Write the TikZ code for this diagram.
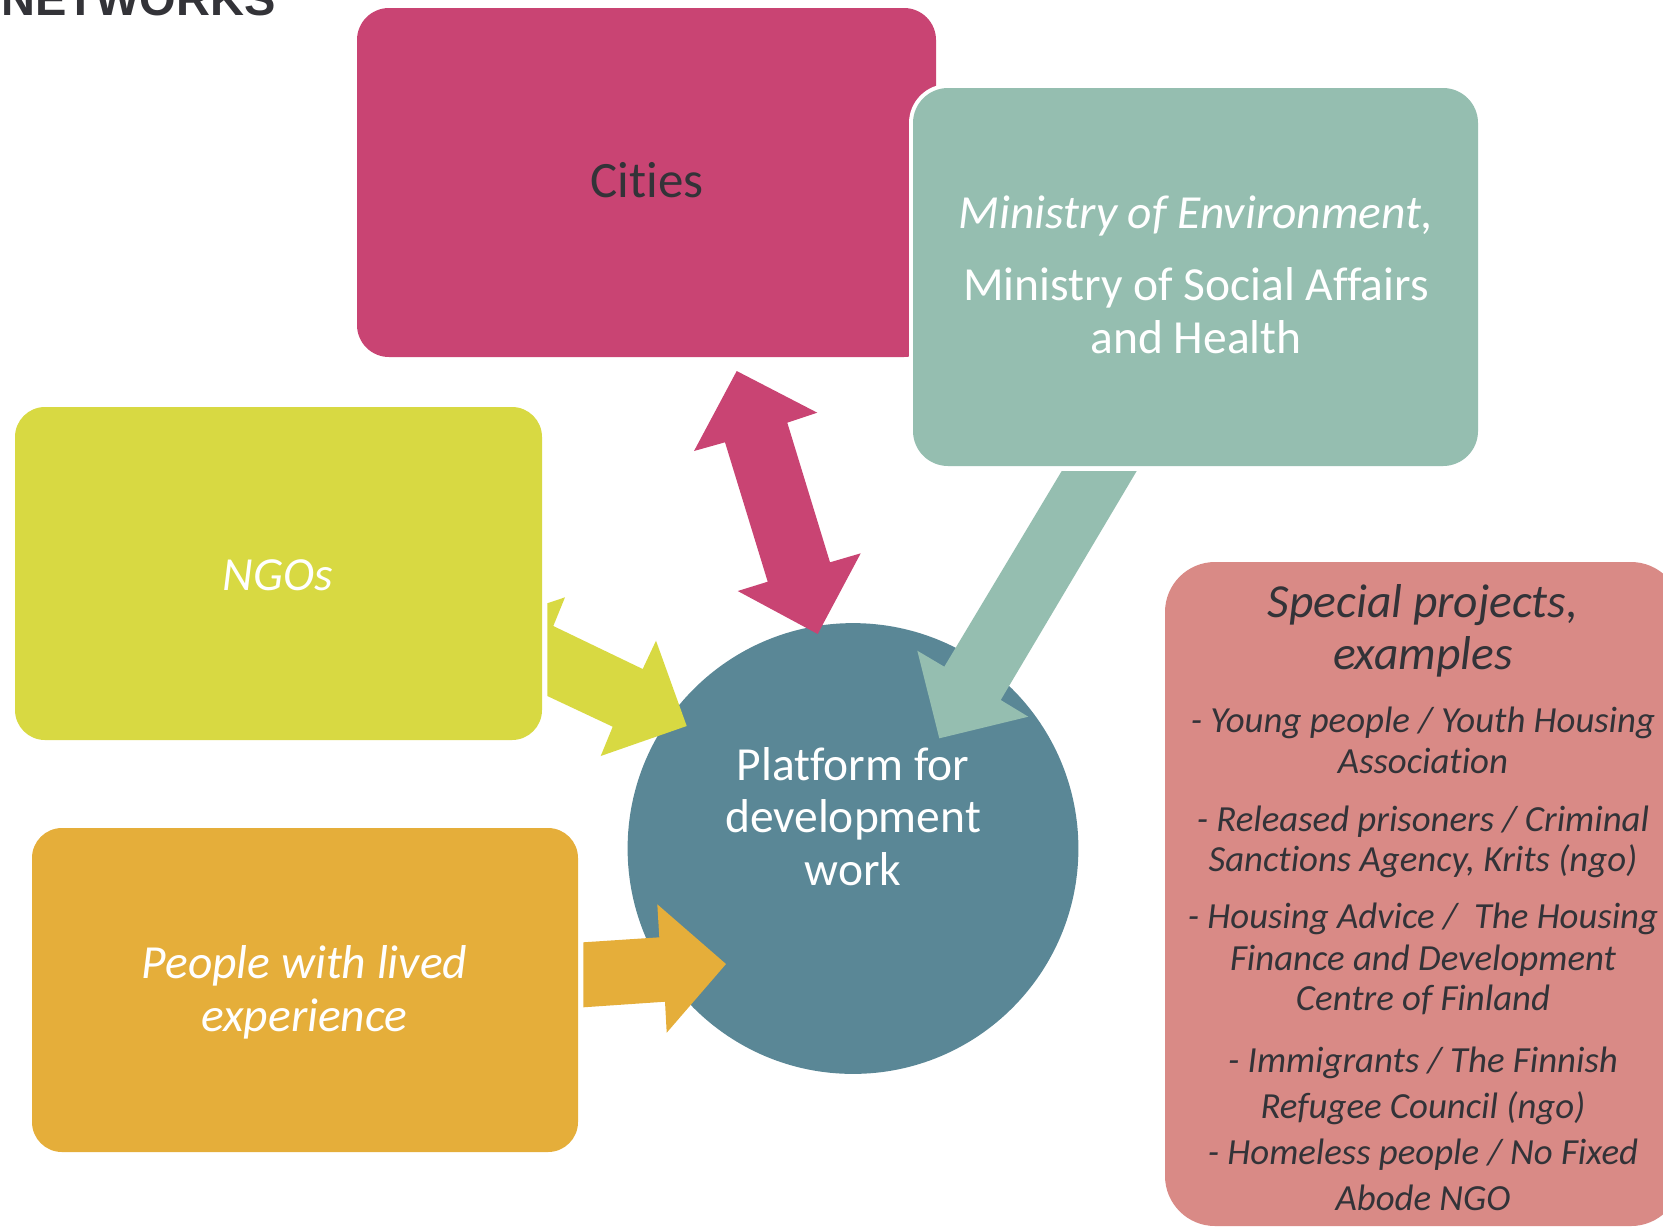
\documentclass[tikz,border=0pt]{standalone}
\usepackage{fontspec}
\setmainfont{Carlito}[Ligatures={NoCommon}]
\newfontfamily\titlefont{Liberation Sans}

\definecolor{citiescol}{RGB}{201,68,115}
\definecolor{minicol}{RGB}{149,190,176}
\definecolor{ngocol}{RGB}{216,217,66}
\definecolor{peoplecol}{RGB}{229,174,58}
\definecolor{platcol}{RGB}{90,135,150}
\definecolor{specialcol}{RGB}{217,138,134}
\definecolor{textdark}{RGB}{51,51,56}

\tikzset{
  boxlabel/.style={inner sep=0pt, anchor=base, font=\fontsize{23.75}{26.5}\selectfont},
  itlabel/.style={boxlabel, font=\fontsize{23.75}{26.5}\selectfont\itshape},
  item/.style={inner sep=0pt, anchor=base, text=textdark, font=\fontsize{18.4}{20.5}\selectfont\itshape}
}

\begin{document}
\begin{tikzpicture}[x=0.5pt,y=-0.5pt]
\useasboundingbox (0,0) rectangle (1663,1227);
\clip (0,0) rectangle (1663,1227);

\node[anchor=base west, inner sep=0pt, text=textdark, font=\titlefont\bfseries\fontsize{23.5}{26}\selectfont] (title) at (1,15) {NETWORKS};

% boxes
\fill[citiescol, rounded corners=16pt] (357,8) rectangle (936,357);
\fill[white, rounded corners=19.5pt] (909,84) rectangle (1482,470);
\fill[minicol, rounded corners=17.5pt] (913,88) rectangle (1478,466);
\fill[ngocol, rounded corners=15pt] (15,407) rectangle (542,740);
\fill[peoplecol, rounded corners=15pt] (32,828) rectangle (578,1152);
\fill[platcol] (853,848.5) circle (112.7pt);
\fill[specialcol, rounded corners=25pt] (1165,562) rectangle (1681,1226);

% arrows
\fill[citiescol] (736.7,371) -- (817.3,412.7) -- (787.3,422.7) -- (830,562.3) -- (860.7,553.3)
  -- (817.7,634) -- (737.7,591) -- (767.7,581.7) -- (725,442.3) -- (694,451) -- cycle;
\fill[ngocol] (547.3,603.3) -- (565,597.3) -- (553.3,626) -- (642.7,669) -- (656,640.7)
  -- (686.7,726) -- (600.7,756) -- (612.7,726.7) -- (547.3,696) -- cycle;
\fill[minicol] (1061.7,471) -- (1136.7,471) -- (1000.7,700) -- (1028.3,716.7)
  -- (939.3,738.3) -- (917.3,650.7) -- (944.3,666.7) -- cycle;
\fill[peoplecol] (583.3,942.3) -- (659.3,937.3) -- (657.3,904.3) -- (726,964)
  -- (666.7,1032.7) -- (665,1001.7) -- (583.3,1007.3) -- cycle;

% texts
\node[boxlabel, text=textdark, font=\fontsize{25.5}{28}\selectfont] (cities) at (647,197) {Cities};

\node[itlabel, text=white] (min1) at (1196,228) {Ministry of Environment,};
\node[boxlabel, text=white] (min2) at (1196,300) {Ministry of Social Affairs};
\node[boxlabel, text=white] (min3) at (1196,353) {and Health};

\node[itlabel, text=white] (ngos) at (278,590) {NGOs};

\node[itlabel, text=white] (people1) at (304.5,978) {People with lived};
\node[itlabel, text=white] (people2) at (304.5,1031) {experience};

\node[boxlabel, text=white] (plat1) at (853,780) {Platform for};
\node[boxlabel, text=white] (plat2) at (853,832) {development};
\node[boxlabel, text=white] (plat3) at (853,885) {work};

\node[itlabel, text=textdark] (spec1) at (1423,617) {Special projects,};
\node[itlabel, text=textdark] (spec2) at (1423,669) {examples};

\node[item] (young1) at (1423,732) {- Young people / Youth Housing};
\node[item] (young2) at (1423,773) {Association};
\node[item] (prison1) at (1423,831) {- Released prisoners / Criminal};
\node[item] (prison2) at (1423,871) {Sanctions Agency, Krits (ngo)};
\node[item] (advice1) at (1423,928) {- Housing Advice /~~The Housing};
\node[item] (advice2) at (1423,970) {Finance and Development};
\node[item] (advice3) at (1423,1010) {Centre of Finland};
\node[item] (immi1) at (1423,1072) {- Immigrants / The Finnish};
\node[item] (immi2) at (1423,1118) {Refugee Council (ngo)};
\node[item] (home1) at (1423,1164) {- Homeless people / No Fixed};
\node[item] (home2) at (1423,1210) {Abode NGO};
\end{tikzpicture}
\end{document}
